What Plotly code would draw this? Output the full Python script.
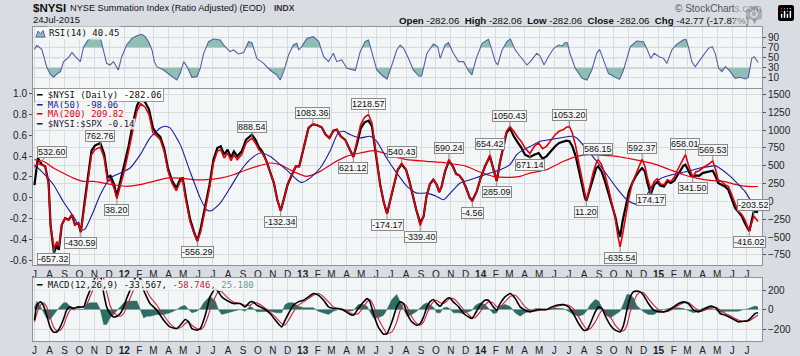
import numpy as np
import pandas as pd
import plotly.graph_objects as go

W, H = 800, 356

# ---------------- data ----------------
nysi_dates = [
    "2011-07-01","2011-07-08","2011-07-16","2011-07-23","2011-07-30","2011-08-03","2011-08-10","2011-08-16","2011-08-20","2011-08-26",
    "2011-09-02","2011-09-09","2011-09-16","2011-09-22","2011-09-29","2011-10-04","2011-10-13","2011-10-20","2011-10-26","2011-11-02",
    "2011-11-13","2011-11-21","2011-11-28","2011-12-04","2011-12-11","2011-12-17","2011-12-25","2012-01-01","2012-01-10","2012-01-19",
    "2012-01-27","2012-02-04","2012-02-13","2012-02-21","2012-02-29","2012-03-06","2012-03-15","2012-03-23","2012-03-31","2012-04-08",
    "2012-04-17","2012-04-25","2012-04-30","2012-05-07","2012-05-15","2012-05-23","2012-05-30","2012-06-06","2012-06-15","2012-06-24",
    "2012-07-02","2012-07-10","2012-07-17","2012-07-24","2012-07-31","2012-08-07","2012-08-13","2012-08-20","2012-08-29","2012-09-07",
    "2012-09-19","2012-09-26","2012-10-03","2012-10-10","2012-10-19","2012-10-26","2012-11-03","2012-11-10","2012-11-17","2012-11-24",
    "2012-12-01","2012-12-10","2012-12-18","2012-12-25","2012-12-30","2013-01-06","2013-01-13","2013-01-22","2013-01-31","2013-02-09",
    "2013-02-17","2013-02-25","2013-03-05","2013-03-12","2013-03-20","2013-03-29","2013-04-05","2013-04-15","2013-04-23","2013-04-30",
    "2013-05-08","2013-05-16","2013-05-23","2013-05-27","2013-06-02","2013-06-09","2013-06-16","2013-06-23","2013-06-29","2013-07-08",
    "2013-07-15","2013-07-23","2013-08-01","2013-08-08","2013-08-15","2013-08-22","2013-08-30","2013-09-06","2013-09-12","2013-09-19",
    "2013-09-26","2013-10-03","2013-10-08","2013-10-13","2013-10-20","2013-10-28","2013-11-05","2013-11-12","2013-11-18","2013-11-25",
    "2013-12-03","2013-12-10","2013-12-15","2013-12-24","2014-01-01","2014-01-10","2014-01-20","2014-01-27","2014-02-03","2014-02-10",
    "2014-02-17","2014-02-23","2014-03-02","2014-03-10","2014-03-18","2014-03-25","2014-04-02","2014-04-12","2014-04-21","2014-04-30",
    "2014-05-08","2014-05-16","2014-05-25","2014-06-03","2014-06-11","2014-06-20","2014-06-26","2014-07-02","2014-07-08","2014-07-15",
    "2014-07-22","2014-07-29","2014-08-03","2014-08-06","2014-08-13","2014-08-20","2014-08-26","2014-08-30","2014-09-06","2014-09-13",
    "2014-09-20","2014-09-27","2014-10-04","2014-10-09","2014-10-14","2014-10-19","2014-10-25","2014-11-01","2014-11-08","2014-11-15",
    "2014-11-22","2014-11-28","2014-12-04","2014-12-09","2014-12-16","2014-12-23","2014-12-29","2015-01-05","2015-01-12","2015-01-19",
    "2015-01-26","2015-02-02","2015-02-08","2015-02-15","2015-02-21","2015-02-25","2015-03-03","2015-03-08","2015-03-12","2015-03-18",
    "2015-03-25","2015-04-01","2015-04-07","2015-04-14","2015-04-22","2015-04-28","2015-05-03","2015-05-10","2015-05-17","2015-05-24",
    "2015-05-31","2015-06-07","2015-06-13","2015-06-20","2015-06-27","2015-07-06","2015-07-15","2015-07-24",
]
nysi_vals = [
    480, 532.60, 516, 492, 235, -328, -657.32, -562, -632, -328,
    -234, -258, -187, -328, -304, -430.59, 0, 328, 656, 727,
    762.76, 609, 281, 305, 188, 38.20, 235, 422, 703, 1031,
    1266, 1369, 1322, 1219, 961, 928, 867, 703, 422, 258,
    150, 281, 291, 0, -281, -445, -556.29, -422, -140, 188,
    539, 703, 727, 609, 680, 572, 656, 586, 656, 820,
    888.54, 820, 727, 680, 563, 422, 258, 24, -132.34, 47,
    235, 375, 492, 492, 633, 844, 1031, 1083.36, 1069, 1041,
    938, 891, 994, 1008, 914, 867, 773, 621.12, 867, 1078,
    1181, 1218.57, 1102, 891, 563, 235, 0, -174.17, 0, 258,
    445, 540.43, 445, 281, 70, -140, -339.40, -211, 70, 244,
    305, 235, 131, 211, 422, 590.24, 492, 385, 366, 305,
    178, 47, -4.56, 141, 328, 492, 654.42, 445, 285.09, 563,
    797, 984, 1050.43, 984, 900, 844, 750, 671.14, 773, 820,
    741, 773, 853, 938, 984, 1008, 1041, 1053.20, 961, 773,
    516, 258, 70, 11.20, 211, 413, 539, 586.15, 516, 375,
    188, -23, -234, -469, -635.54, -469, -234, 47, 258, 375,
    469, 592.37, 492, 328, 174.17, 281, 319, 244, 235, 305,
    281, 338, 431, 525, 619, 658.01, 516, 413, 341.50, 413,
    431, 469, 492, 525, 569.53, 445, 305, 281, 235, 211,
    94, -47, -140, -178, -258, -416.02, -203.52, -282.06,
]
ratio_vals = [
    0.12, 0.382, 0.318, 0.302, 0.141, -0.261, -0.535, -0.455, -0.503, -0.261,
    -0.197, -0.213, -0.165, -0.261, -0.245, -0.332, 0.002, 0.227, 0.453, 0.501,
    0.527, 0.421, 0.195, 0.211, 0.131, 0.015, 0.173, 0.302, 0.495, 0.720,
    0.881, 0.961, 0.919, 0.848, 0.672, 0.627, 0.585, 0.472, 0.279, 0.166,
    0.092, 0.182, 0.189, -0.010, -0.204, -0.326, -0.416, -0.294, -0.100, 0.125,
    0.366, 0.478, 0.495, 0.414, 0.462, 0.388, 0.446, 0.398, 0.446, 0.559,
    0.607, 0.559, 0.488, 0.446, 0.350, 0.253, 0.141, -0.020, -0.126, -0.004,
    0.125, 0.221, 0.302, 0.302, 0.398, 0.543, 0.672, 0.707, 0.697, 0.678,
    0.607, 0.575, 0.646, 0.655, 0.591, 0.559, 0.495, 0.392, 0.527, 0.665,
    0.726, 0.742, 0.688, 0.559, 0.350, 0.125, -0.036, -0.155, -0.036, 0.141,
    0.269, 0.321, 0.269, 0.157, 0.012, -0.117, -0.242, -0.181, 0.012, 0.131,
    0.173, 0.125, 0.054, 0.108, 0.253, 0.353, 0.302, 0.227, 0.215, 0.173,
    0.086, -0.004, -0.027, 0.060, 0.189, 0.302, 0.398, 0.269, 0.160, 0.350,
    0.495, 0.623, 0.668, 0.591, 0.533, 0.485, 0.414, 0.392, 0.414, 0.430,
    0.376, 0.398, 0.446, 0.495, 0.527, 0.543, 0.549, 0.543, 0.495, 0.398,
    0.253, 0.108, -0.004, -0.030, 0.076, 0.199, 0.285, 0.302, 0.253, 0.157,
    0.044, -0.068, -0.181, -0.294, -0.377, -0.229, -0.085, 0.060, 0.141, 0.205,
    0.253, 0.285, 0.253, 0.141, 0.034, 0.125, 0.150, 0.115, 0.108, 0.157,
    0.141, 0.163, 0.211, 0.260, 0.308, 0.318, 0.253, 0.215, 0.199, 0.215,
    0.211, 0.237, 0.244, 0.253, 0.260, 0.205, 0.141, 0.125, 0.108, 0.076,
    -0.004, -0.100, -0.133, -0.175, -0.245, -0.323, -0.133, -0.14,
]
# labelled turning points of $NYSI
label_vals = [532.60, -657.32, -430.59, 762.76, 38.20, -556.29, 888.54, -132.34,
              1083.36, 621.12, 1218.57, -174.17, 540.43, -339.40, 590.24, -4.56,
              654.42, 285.09, 1050.43, 671.14, 1053.20, 11.20, 586.15, -635.54,
              592.37, 174.17, 658.01, 341.50, 569.53, -416.02, -203.52]

ma50_dates = [
    "2011-07-01","2011-07-19","2011-08-09","2011-08-29","2011-09-19","2011-10-06","2011-10-13","2011-10-27","2011-11-13","2011-12-03",
    "2011-12-24","2012-01-13","2012-02-03","2012-02-23","2012-03-15","2012-03-25","2012-04-04","2012-04-25","2012-05-15","2012-06-05",
    "2012-06-18","2012-06-27","2012-07-16","2012-08-05","2012-08-26","2012-09-15","2012-10-06","2012-10-26","2012-11-16","2012-12-06",
    "2012-12-20","2012-12-30","2013-01-16","2013-02-06","2013-02-26","2013-03-15","2013-03-26","2013-04-08","2013-04-29","2013-05-19",
    "2013-06-02","2013-06-22","2013-07-13","2013-08-03","2013-08-23","2013-09-12","2013-10-03","2013-10-17","2013-11-03","2013-11-20",
    "2013-12-11","2013-12-31","2014-01-20","2014-02-10","2014-03-02","2014-03-16","2014-03-30","2014-04-13","2014-05-03","2014-05-23",
    "2014-06-13","2014-07-07","2014-07-17","2014-08-07","2014-08-27","2014-09-17","2014-10-07","2014-10-28","2014-11-14","2014-11-24",
    "2014-12-08","2014-12-21","2015-01-07","2015-01-24","2015-02-13","2015-03-07","2015-03-27","2015-04-17","2015-04-27","2015-05-11",
    "2015-05-28","2015-06-14","2015-06-27","2015-07-08","2015-07-24",
]
ma50_vals = [
    516, 398, 235, 0, -211, -398, -384, -187, 94, 328,
    398, 469, 656, 891, 1031, 1055, 1031, 797, 422, 47,
    -117, -131, -23, 188, 422, 586, 680, 633, 516, 398,
    305, 267, 328, 469, 703, 961, 984, 938, 891, 914,
    844, 609, 398, 211, 117, 117, 70, 24, 141, 258,
    305, 352, 398, 445, 516, 656, 727, 773, 844, 867,
    891, 914, 891, 727, 563, 375, 188, 24, -37, -37,
    94, 235, 328, 366, 398, 431, 469, 492, 502, 445,
    352, 235, 141, 24, -98.06,
]
ma200_dates = [
    "2011-07-01","2011-07-19","2011-08-09","2011-08-29","2011-09-19","2011-10-10","2011-10-30","2011-11-20","2011-12-10","2012-01-06",
    "2012-02-02","2012-03-01","2012-03-28","2012-04-25","2012-05-22","2012-06-18","2012-07-16","2012-08-12","2012-09-08","2012-10-06",
    "2012-10-26","2012-11-16","2012-12-12","2013-01-09","2013-02-06","2013-03-05","2013-04-01","2013-04-29","2013-05-26","2013-06-16",
    "2013-07-06","2013-08-03","2013-09-12","2013-10-23","2013-12-03","2013-12-30","2014-01-27","2014-02-23","2014-03-23","2014-04-12",
    "2014-05-16","2014-06-20","2014-07-17","2014-08-13","2014-09-10","2014-10-07","2014-11-03","2014-12-01","2014-12-28","2015-01-24",
    "2015-02-21","2015-03-20","2015-04-16","2015-05-14","2015-06-10","2015-07-01","2015-07-24",
]
ma200_vals = [
    586, 563, 469, 398, 328, 281, 281, 258, 235, 211,
    235, 281, 328, 328, 305, 305, 328, 375, 445, 505,
    539, 516, 422, 352, 422, 539, 633, 680, 713, 680,
    633, 586, 563, 539, 492, 413, 352, 338, 352, 398,
    445, 563, 633, 656, 647, 633, 600, 563, 516, 445,
    375, 328, 295, 281, 235, 211, 209.82,
]

rsi_dates = [
    "2011-07-01","2011-07-06","2011-07-16","2011-07-26","2011-08-02","2011-08-09","2011-08-16","2011-08-23","2011-08-30","2011-09-09",
    "2011-09-16","2011-09-23","2011-10-03","2011-10-10","2011-10-20","2011-10-30","2011-11-13","2011-11-20","2011-11-26","2011-12-03",
    "2011-12-10","2011-12-20","2011-12-27","2012-01-06","2012-01-17","2012-01-27","2012-02-06","2012-02-13","2012-02-20","2012-02-27",
    "2012-03-03","2012-03-08","2012-03-22","2012-04-04","2012-04-18","2012-04-25","2012-05-02","2012-05-09","2012-05-19","2012-05-29",
    "2012-06-05","2012-06-12","2012-06-22","2012-07-02","2012-07-16","2012-07-23","2012-07-30","2012-08-05","2012-08-12","2012-08-23",
    "2012-09-02","2012-09-12","2012-09-19","2012-09-29","2012-10-13","2012-10-26","2012-11-09","2012-11-16","2012-11-23","2012-12-03",
    "2012-12-13","2012-12-20","2012-12-24","2012-12-30","2013-01-10","2013-01-23","2013-02-03","2013-02-13","2013-02-23","2013-03-05",
    "2013-03-12","2013-03-22","2013-04-02","2013-04-12","2013-04-19","2013-04-29","2013-05-09","2013-05-16","2013-05-23","2013-06-02",
    "2013-06-12","2013-06-23","2013-07-03","2013-07-13","2013-07-20","2013-07-27","2013-08-06","2013-08-16","2013-08-27","2013-09-02",
    "2013-09-13","2013-09-26","2013-10-05","2013-10-10","2013-10-20","2013-10-27","2013-11-06","2013-11-17","2013-11-27","2013-12-07",
    "2013-12-14","2013-12-23","2014-01-04","2014-01-17","2014-01-22","2014-01-31","2014-02-05","2014-02-14","2014-02-24","2014-03-03",
    "2014-03-13","2014-03-23","2014-04-06","2014-04-13","2014-04-26","2014-05-03","2014-05-11","2014-05-20","2014-05-31","2014-06-10",
    "2014-06-17","2014-06-23","2014-06-28","2014-07-03","2014-07-14","2014-07-28","2014-08-07","2014-08-17","2014-08-27","2014-09-02",
    "2014-09-10","2014-09-20","2014-10-04","2014-10-13","2014-10-21","2014-11-04","2014-11-17","2014-12-01","2014-12-09","2014-12-16",
    "2014-12-23","2015-01-02","2015-01-11","2015-01-18","2015-01-28","2015-02-07","2015-02-20","2015-02-26","2015-03-03","2015-03-10",
    "2015-03-17","2015-03-24","2015-04-03","2015-04-13","2015-04-21","2015-04-27","2015-05-04","2015-05-11","2015-05-18","2015-05-28",
    "2015-06-07","2015-06-17","2015-06-28","2015-07-04","2015-07-11","2015-07-16","2015-07-24",
]
rsi_vals = [
    66.3, 74.2, 66.3, 32.2, 17.8, 11.3, 17.8, 22.4, 42.1, 50.6,
    60.4, 51.9, 42.1, 71.6, 86.0, 89.3, 89.3, 65.0, 38.8, 35.5,
    42.1, 25.7, 51.9, 74.8, 87.9, 93.2, 95.8, 91.2, 81.4, 65.0,
    42.1, 32.2, 25.7, 15.9, 6.0, 19.1, 42.1, 32.2, 11.3, 12.6,
    29.0, 58.5, 81.4, 86.6, 84.7, 74.8, 68.3, 61.7, 65.0, 57.1,
    59.8, 81.4, 79.4, 48.6, 38.8, 25.7, 15.9, 6.0, 22.4, 55.2,
    74.8, 78.1, 65.0, 71.6, 87.9, 91.2, 81.4, 51.9, 42.1, 58.5,
    42.1, 45.3, 29.0, 27.0, 24.4, 61.7, 81.4, 84.7, 61.7, 25.7,
    15.9, 8.0, 35.5, 65.0, 74.8, 68.3, 48.6, 25.7, 13.9, 13.9,
    58.5, 76.8, 71.6, 48.6, 74.8, 79.4, 58.5, 42.1, 42.1, 24.4,
    15.9, 48.6, 78.1, 86.0, 71.6, 42.1, 35.5, 65.0, 81.4, 86.6,
    65.0, 51.9, 35.5, 42.1, 58.5, 53.2, 35.5, 51.9, 68.3, 74.8,
    72.9, 79.4, 79.4, 58.5, 29.0, 9.3, 6.0, 25.7, 58.5, 66.3,
    45.3, 19.1, 11.3, 7.3, 25.7, 71.6, 82.7, 81.4, 65.0, 48.6,
    58.5, 51.9, 48.6, 38.8, 65.0, 76.1, 84.7, 86.0, 71.6, 42.1,
    32.2, 42.1, 55.2, 68.3, 71.6, 58.5, 29.0, 22.4, 32.2, 22.4,
    9.3, 11.3, 8.0, 11.3, 48.6, 51.9, 40.45,
]

macd_dates = [
    "2011-07-01","2011-07-06","2011-07-13","2011-07-19","2011-07-26","2011-08-02","2011-08-09","2011-08-16","2011-08-23","2011-08-30",
    "2011-09-05","2011-09-12","2011-09-19","2011-09-29","2011-10-10","2011-10-16","2011-10-23","2011-10-30","2011-11-06","2011-11-13",
    "2011-11-20","2011-11-26","2011-12-03","2011-12-10","2011-12-17","2011-12-24","2011-12-31","2012-01-06","2012-01-13","2012-01-20",
    "2012-01-27","2012-02-03","2012-02-10","2012-02-16","2012-02-23","2012-03-08","2012-03-22","2012-04-04","2012-04-18","2012-04-28",
    "2012-05-05","2012-05-12","2012-05-19","2012-05-29","2012-06-05","2012-06-12","2012-06-18","2012-06-25","2012-07-06","2012-07-12",
    "2012-07-19","2012-07-29","2012-08-12","2012-08-26","2012-09-05","2012-09-15","2012-09-22","2012-09-29","2012-10-13","2012-10-26",
    "2012-11-09","2012-11-19","2012-11-26","2012-12-03","2012-12-13","2012-12-23","2013-01-03","2013-01-13","2013-01-23","2013-02-02",
    "2013-02-13","2013-02-23","2013-03-05","2013-03-15","2013-03-26","2013-04-05","2013-04-15","2013-04-25","2013-05-06","2013-05-13",
    "2013-05-19","2013-05-26","2013-06-05","2013-06-16","2013-06-23","2013-07-03","2013-07-13","2013-07-20","2013-07-27","2013-08-03",
    "2013-08-13","2013-08-23","2013-08-30","2013-09-06","2013-09-13","2013-09-19","2013-09-26","2013-10-03","2013-10-10","2013-10-17",
    "2013-10-24","2013-10-30","2013-11-06","2013-11-17","2013-11-27","2013-12-07","2013-12-14","2013-12-21","2013-12-31","2014-01-10",
    "2014-01-17","2014-01-27","2014-02-03","2014-02-10","2014-02-20","2014-03-03","2014-03-13","2014-03-23","2014-04-02","2014-04-13",
    "2014-04-23","2014-05-03","2014-05-17","2014-05-27","2014-06-06","2014-06-20","2014-06-30","2014-07-10","2014-07-21","2014-07-31",
    "2014-08-07","2014-08-14","2014-08-24","2014-08-31","2014-09-07","2014-09-13","2014-09-24","2014-10-04","2014-10-14","2014-10-21",
    "2014-10-28","2014-11-04","2014-11-10","2014-11-17","2014-11-24","2014-12-01","2014-12-11","2014-12-22","2015-01-02","2015-01-11",
    "2015-01-21","2015-02-01","2015-02-11","2015-02-21","2015-03-03","2015-03-14","2015-03-24","2015-03-31","2015-04-10","2015-04-20",
    "2015-04-30","2015-05-07","2015-05-18","2015-05-28","2015-06-07","2015-06-14","2015-06-24","2015-07-01","2015-07-08","2015-07-18",
    "2015-07-24",
]
macd_vals = [
    -110, 44, 78, 44, -59, -178, -230, -230, -178, -93,
    -7, 27, 10, 27, 27, 112, 198, 284, 369, 352,
    164, 27, -41, -76, -69, -41, 27, 112, 198, 284,
    352, 318, 198, 130, 61, -7, -110, -178, -195, -144,
    -103, -127, -195, -212, -195, -110, -7, 130, 215, 181,
    130, 95, 61, 61, 27, 78, 78, 44, 10, -41,
    -127, -178, -110, -41, 44, 78, 95, 130, 164, 147,
    95, 27, 10, 10, -7, -41, -59, 10, 78, 112,
    78, -41, -178, -253, -247, -127, 27, 78, 61, -41,
    -127, -161, -144, -76, 27, 78, 102, 61, 34, 78,
    112, 119, 78, 27, -41, -76, -93, -41, 44, 95,
    95, 27, -7, 61, 130, 164, 112, 27, -7, -24,
    -7, 0, 0, 27, 44, 51, 27, -41, -144, -212,
    -212, -144, -24, 27, 10, -59, -161, -212, -230, -161,
    -7, 130, 181, 188, 181, 147, 61, -7, -24, -24,
    -7, 27, 61, 78, 61, -7, -24, -7, 20, 34,
    10, -41, -59, -82, -110, -127, -120, -117, -93, -41,
    -33.567,
]
signal_vals = [
    -127, -41, 44, 68, 27, -76, -178, -219, -212, -161,
    -76, -7, 17, 20, 27, 54, 130, 215, 301, 352,
    318, 181, 44, -24, -59, -69, -41, 27, 112, 198,
    266, 318, 284, 198, 130, 44, -59, -144, -195, -178,
    -144, -127, -161, -195, -206, -178, -110, -7, 130, 181,
    181, 130, 78, 61, 44, 44, 68, 68, 27, -24,
    -93, -144, -161, -110, -24, 44, 78, 112, 147, 164,
    130, 78, 27, 10, 0, -24, -48, -41, 27, 78,
    102, 44, -93, -195, -247, -230, -127, -7, 61, 27,
    -76, -144, -161, -127, -41, 27, 78, 95, 68, 61,
    89, 112, 112, 61, 0, -52, -82, -82, -24, 44,
    78, 68, 27, 27, 78, 136, 147, 95, 27, -7,
    -17, -7, 0, 10, 34, 44, 44, 10, -76, -161,
    -202, -195, -127, -59, -7, -7, -76, -161, -212, -219,
    -161, -20, 61, 147, 174, 171, 112, 44, -7, -24,
    -17, 10, 44, 68, 72, 27, -7, -17, 0, 20,
    20, -7, -41, -65, -93, -110, -120, -120, -110, -76,
    -58.746,
]

month_letters = ["J", "F", "M", "A", "M", "J", "J", "A", "S", "O", "N", "D"]
year_labels = {2012: "12", 2013: "13", 2014: "14", 2015: "15"}
rsi_ticks = [10, 30, 50, 70, 90]
nysi_ticks = [-750, -500, -250, 0, 250, 500, 750, 1000, 1250, 1500]
ratio_ticks = [-0.6, -0.4, -0.2, 0.0, 0.2, 0.4, 0.6, 0.8, 1.0]
ratio_ticktext = ["-0.6", "-0.4", "-0.2", "0.0", "0.2", "0.4", "0.6", "0.8", "1.0"]
macd_ticks = [-200, 0, 200]

for a, b in [(nysi_dates, nysi_vals), (nysi_dates, ratio_vals), (ma50_dates, ma50_vals),
             (ma200_dates, ma200_vals), (rsi_dates, rsi_vals), (macd_dates, macd_vals),
             (macd_dates, signal_vals)]:
    assert len(a) == len(b), (len(a), len(b))

# ---------------- styling ----------------
RED = "#e3000f"
BLUE = "#1b1b9a"
GRID = "#d6dcdf"
FRAME = "#8e949a"
PANEL_BG = "#f3f6f6"
PAPER_BG = "#d9dce3"
TEAL_FILL = "#8fbfb3"
RSI_LINE = "#5361a6"
HIST = "#2f6c65"
TICKFONT = dict(family="Liberation Sans, Arial, sans-serif", size=10, color="#222")
MONO = "DejaVu Sans Mono, monospace"

X_RANGE = ["2011-06-28", "2015-08-01"]
XDOM = [33 / W, 762 / W]


def py(p):
    return 1 - p / H


def px(p):
    return p / W


month_starts = pd.date_range("2011-07-01", "2015-07-01", freq="MS")
tick_text = [("<b>%s</b>" % year_labels[d.year]) if d.month == 1 else month_letters[d.month - 1]
             for d in month_starts]


def clipped(dates, vals, level, above):
    t = pd.to_datetime(pd.Series(dates)).astype("int64").to_numpy().astype(float)
    v = np.asarray(vals, float)
    xs, ys = [], []
    for i in range(len(v)):
        xs.append(t[i]); ys.append(v[i])
        if i < len(v) - 1 and (v[i] - level) * (v[i + 1] - level) < 0:
            f = (level - v[i]) / (v[i + 1] - v[i])
            xs.append(t[i] + f * (t[i + 1] - t[i])); ys.append(level)
    ys = np.array(ys)
    ys = np.maximum(ys, level) if above else np.minimum(ys, level)
    return pd.to_datetime(np.array(xs).astype("int64")), ys


fig = go.Figure()

# ---------- RSI panel ----------
for level, above in [(70, True), (30, False)]:
    cx, cy = clipped(rsi_dates, rsi_vals, level, above)
    fig.add_trace(go.Scatter(x=cx, y=[level] * len(cx), xaxis="x", yaxis="y", mode="lines",
                             line=dict(width=0), hoverinfo="skip", showlegend=False))
    fig.add_trace(go.Scatter(x=cx, y=cy, xaxis="x", yaxis="y", mode="lines", fill="tonexty",
                             fillcolor=TEAL_FILL, line=dict(width=0), hoverinfo="skip", showlegend=False))
fig.add_trace(go.Scatter(x=rsi_dates, y=rsi_vals, xaxis="x", yaxis="y", mode="lines",
                         line=dict(color=RSI_LINE, width=1.1), showlegend=False))

# ---------- main panel ----------
fig.add_trace(go.Scatter(x=nysi_dates, y=ratio_vals, xaxis="x2", yaxis="y2", mode="lines",
                         line=dict(color="#000000", width=2.2), showlegend=False))
fig.add_trace(go.Scatter(x=ma200_dates, y=ma200_vals, xaxis="x2", yaxis="y3", mode="lines",
                         line=dict(color=RED, width=1.2, shape="spline", smoothing=0.6), showlegend=False))
fig.add_trace(go.Scatter(x=ma50_dates, y=ma50_vals, xaxis="x2", yaxis="y3", mode="lines",
                         line=dict(color=BLUE, width=1.1, shape="spline", smoothing=0.6), showlegend=False))
fig.add_trace(go.Scatter(x=nysi_dates, y=nysi_vals, xaxis="x2", yaxis="y3", mode="lines",
                         line=dict(color=RED, width=1.6), showlegend=False))

# ---------- MACD panel ----------
hist_vals = np.array(macd_vals) - np.array(signal_vals)  # histogram = MACD - signal
fig.add_trace(go.Scatter(x=macd_dates, y=hist_vals, xaxis="x3", yaxis="y4", mode="lines",
                         fill="tozeroy", fillcolor=HIST, line=dict(color=HIST, width=0.5),
                         showlegend=False))
fig.add_trace(go.Scatter(x=macd_dates, y=signal_vals, xaxis="x3", yaxis="y4", mode="lines",
                         line=dict(color="#d0213f", width=1.1, shape="spline", smoothing=0.5),
                         showlegend=False))
fig.add_trace(go.Scatter(x=macd_dates, y=macd_vals, xaxis="x3", yaxis="y4", mode="lines",
                         line=dict(color="#000000", width=1.6, shape="spline", smoothing=0.5),
                         showlegend=False))

xcommon = dict(type="date", range=X_RANGE, domain=XDOM, tickmode="array",
               tickvals=month_starts, ticktext=tick_text, showgrid=True, gridcolor=GRID,
               gridwidth=1, showline=True, linecolor=FRAME, mirror=True, ticks="",
               tickfont=TICKFONT, zeroline=False, fixedrange=True)
ycommon = dict(showline=True, linecolor=FRAME, mirror=True, ticks="outside", ticklen=3,
               tickcolor="#555", tickfont=TICKFONT, zeroline=False, gridcolor=GRID,
               fixedrange=True)

fig.update_layout(
    width=W, height=H, margin=dict(l=0, r=0, t=0, b=0),
    paper_bgcolor=PAPER_BG, plot_bgcolor=PANEL_BG, showlegend=False, hovermode=False,
    xaxis=dict(xcommon, anchor="y", showticklabels=False),
    xaxis2=dict(xcommon, anchor="y2", ticklabelstandoff=0),
    xaxis3=dict(xcommon, anchor="y4", ticklabelstandoff=0),
    yaxis=dict(ycommon, domain=[py(88), py(26.5)], range=[-9.7, 111.2], side="right",
               tickvals=rsi_ticks, showgrid=True, anchor="x"),
    yaxis2=dict(ycommon, domain=[py(265), py(88.5)], range=[-0.648, 1.051], side="left",
                tickvals=ratio_ticks, ticktext=ratio_ticktext, showgrid=False, anchor="x2"),
    yaxis3=dict(ycommon, range=[-891, 1584], side="right", overlaying="y2", anchor="x2",
                tickvals=nysi_ticks, showgrid=True),
    yaxis4=dict(ycommon, domain=[py(341), py(278)], range=[-323, 323], side="right",
                tickvals=macd_ticks, showgrid=True, anchor="x3"),
)

# RSI reference lines
for lvl, dash in [(70, "solid"), (30, "solid"), (50, "dashdot")]:
    fig.add_shape(type="line", xref="x domain", yref="y", x0=0, x1=1, y0=lvl, y1=lvl,
                  line=dict(color="#8c8c8c", width=1, dash=dash), layer="below")

# ---------- price labels ----------
for i, val in enumerate(label_vals):
    k = nysi_vals.index(val)
    nb = [nysi_vals[j] for j in (k - 1, k + 1) if 0 <= j < len(nysi_vals)]
    peak = val >= max(nb)
    dx = 14 if i == 0 else 0
    fig.add_annotation(x=nysi_dates[k], y=val, xref="x2", yref="y3",
                       text="%.2f" % val, showarrow=True, arrowhead=0, arrowwidth=1,
                       arrowcolor="#8a8a8a", ax=dx, ay=-11 if peak else 11,
                       bgcolor="#f5f5f5", bordercolor="#8a8a8a", borderwidth=1, borderpad=0,
                       font=dict(family="Liberation Sans, Arial", size=9, color="#111"))

# ---------- header texts ----------
def txt(x, y, text, size=10, family="Liberation Sans, Arial", color="#111", xanchor="left", **kw):
    fig.add_annotation(x=px(x), y=py(y), xref="paper", yref="paper", text=text, showarrow=False,
                       xanchor=xanchor, yanchor="middle", font=dict(size=size, family=family, color=color), **kw)

txt(31, 8.5, "<b>$NYSI</b>", size=11.5)
txt(68, 8.5, "NYSE Summation Index (Ratio Adjusted) (EOD)", size=9.2)
txt(272, 8.5, "<b>INDX</b>", size=8.5, color="#333")
txt(31, 19.5, "24Jul-2015", size=9.5)
txt(763, 8.5, "© StockCharts.com", size=10, color="#555", xanchor="right")
txt(759, 20, "<b>Open</b> -282.06  <b>High</b> -282.06  <b>Low</b> -282.06  <b>Close</b> -282.06  "
             "<b>Chg</b> -42.77 (-17.87%) <span style='color:#4a5a94'>▾</span>", size=9.7, xanchor="right")

# RSI legend
fig.add_shape(type="path", xref="paper", yref="paper",
              path="M %f,%f L %f,%f L %f,%f L %f,%f L %f,%f Z" % (
                  px(36), py(37), px(38), py(31), px(40.5), py(34), px(43), py(30.5), px(45), py(37)),
              fillcolor=TEAL_FILL, line=dict(color=RSI_LINE, width=1))
txt(47, 33.5, "RSI(14) 40.45", size=9, family=MONO, bgcolor="rgba(243,246,246,0.9)")

# main legend
txt(34, 94.7, "<span style='color:#000'>━</span> $NYSI (Daily) -282.06", size=9, family=MONO,
    bgcolor="#ffffff", bordercolor="#9a9a9a", borderwidth=1, borderpad=1)
txt(35, 105, "<span style='color:%s'>━</span> <span style='color:%s'>MA(50) -98.06</span>" % (BLUE, BLUE),
    size=9, family=MONO, bgcolor="rgba(243,246,246,0.85)", borderpad=0)
txt(35, 114.3, "<span style='color:%s'>━</span> <span style='color:%s'>MA(200) 209.82</span>" % (RED, RED),
    size=9, family=MONO, bgcolor="rgba(243,246,246,0.85)", borderpad=0)
txt(35, 123.7, "<span style='color:#1f2340'>━</span> <span style='color:#1f2340'>$NYSI:$SPX -0.14</span>",
    size=9, family=MONO, bgcolor="rgba(243,246,246,0.85)", borderpad=0)

# MACD legend
txt(35, 285, "━ MACD(12,26,9) -33.567, <span style='color:#c8213f'>-58.746,</span> "
             "<span style='color:#5f9c93'>25.180</span>", size=9, family=MONO,
    bgcolor="rgba(243,246,246,0.9)", borderpad=0)

fig.write_html("out.html",
               post_script="document.body.style.margin='0';document.body.style.background='%s';" % PAPER_BG)
